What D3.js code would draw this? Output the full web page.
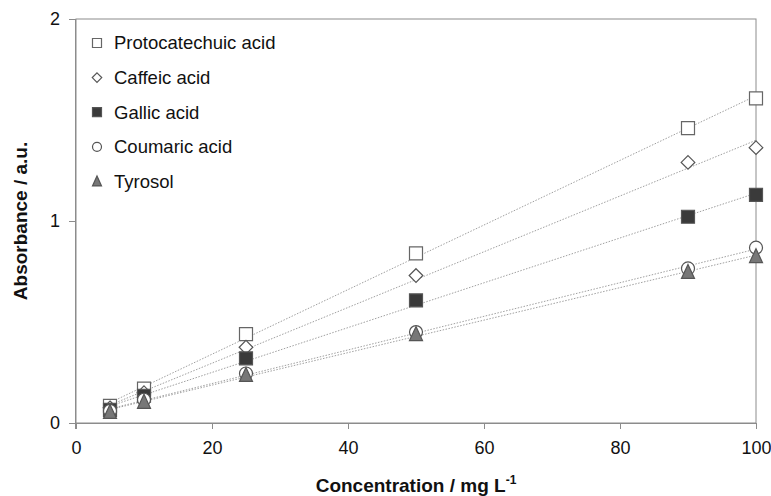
<!DOCTYPE html>
<html>
<head>
<meta charset="utf-8">
<script src="https://cdn.jsdelivr.net/npm/d3@7"></script>
<style>
  html, body { margin: 0; padding: 0; background: #fff; }
  svg { display: block; font-family: Arial, "Liberation Sans", sans-serif; }
</style>
</head>
<body>
<svg id="chart" width="771" height="496"></svg>
<script>
// Data
const concentrations = [5, 10, 25, 50, 90, 100];
const seriesNames = ["Protocatechuic acid", "Caffeic acid", "Gallic acid", "Coumaric acid", "Tyrosol"];
const protocatechuic = [0.085, 0.17, 0.44, 0.84, 1.46, 1.607];
const caffeic = [0.075, 0.15, 0.375, 0.73, 1.29, 1.363];
const gallic = [0.065, 0.135, 0.32, 0.607, 1.021, 1.129];
const coumaric = [0.06, 0.115, 0.245, 0.45, 0.765, 0.868];
const tyrosol = [0.055, 0.105, 0.238, 0.44, 0.748, 0.826];
const xTicks = [0, 20, 40, 60, 80, 100];
const yTicks = [0, 1, 2];

const seriesValues = [protocatechuic, caffeic, gallic, coumaric, tyrosol];
const markerStyles = [
  { shape: "square", fill: "#ffffff", stroke: "#666666" },
  { shape: "diamond", fill: "#ffffff", stroke: "#555555" },
  { shape: "square", fill: "#3a3a3a", stroke: "#555555" },
  { shape: "circle", fill: "#ffffff", stroke: "#555555" },
  { shape: "triangle", fill: "#777777", stroke: "#555555" }
];

const svg = d3.select("#chart");
const pLeft = 76, pRight = 756, pTop = 19, pBottom = 423;
const x = d3.scaleLinear().domain([0, 100]).range([pLeft, pRight]);
const y = d3.scaleLinear().domain([0, 2]).range([pBottom, pTop]);

function markerPath(shape, size) {
  const h = size / 2;
  if (shape === "square") return `M${-h},${-h}H${h}V${h}H${-h}Z`;
  if (shape === "diamond") { const d = h * 1.05; return `M0,${-d}L${d},0L0,${d}L${-d},0Z`; }
  if (shape === "triangle") { return `M0,${-h - 1}L${h},${h}L${-h},${h}Z`; }
  return null;
}

function drawMarker(g, style, size) {
  if (style.shape === "circle") {
    g.append("circle").attr("r", size / 2).attr("fill", style.fill)
      .attr("stroke", style.stroke).attr("stroke-width", 1.2);
  } else {
    g.append("path").attr("d", markerPath(style.shape, size)).attr("fill", style.fill)
      .attr("stroke", style.stroke).attr("stroke-width", 1.2);
  }
}

// Frame
svg.append("rect").attr("x", pLeft).attr("y", pTop)
  .attr("width", pRight - pLeft).attr("height", pBottom - pTop)
  .attr("fill", "none").attr("stroke", "#8c8c8c").attr("stroke-width", 1);

// X axis
const xAxis = d3.axisBottom(x).tickValues(xTicks).tickSize(6).tickPadding(12).tickFormat(d3.format("d"));
const gx = svg.append("g").attr("transform", `translate(0,${pBottom})`).call(xAxis);
gx.select(".domain").attr("d", `M${pLeft - 6},0.5H${pRight}`).attr("stroke", "#8c8c8c");
gx.selectAll(".tick line").attr("stroke", "#8c8c8c");
gx.selectAll(".tick text").attr("font-size", 18).attr("fill", "#111")
  .attr("font-family", "Arial, 'Liberation Sans', sans-serif");

// Y axis
const yAxis = d3.axisLeft(y).tickValues(yTicks).tickSize(7).tickPadding(9).tickFormat(d3.format("d"));
const gy = svg.append("g").attr("transform", `translate(${pLeft},0)`).call(yAxis);
gy.select(".domain").attr("d", `M-0.5,${pTop}V${pBottom + 6}`).attr("stroke", "#8c8c8c");
gy.selectAll(".tick line").attr("stroke", "#8c8c8c");
gy.selectAll(".tick text").attr("font-size", 18).attr("fill", "#111")
  .attr("font-family", "Arial, 'Liberation Sans', sans-serif");

// Axis titles
const xt = svg.append("text").attr("x", (pLeft + pRight) / 2).attr("y", 492)
  .attr("text-anchor", "middle").attr("font-size", 19).attr("font-weight", "bold").attr("fill", "#111");
xt.append("tspan").text("Concentration / mg L");
xt.append("tspan").attr("dy", -8).attr("font-size", 12).text("-1");

svg.append("text").attr("transform", `translate(27,${(pTop + pBottom) / 2}) rotate(-90)`)
  .attr("text-anchor", "middle").attr("font-size", 19).attr("font-weight", "bold").attr("fill", "#111")
  .text("Absorbance / a.u.");

// Trendlines (least-squares fit of each series)
seriesValues.forEach(vals => {
  const mx = d3.mean(concentrations), my = d3.mean(vals);
  let sxy = 0, sxx = 0;
  concentrations.forEach((c, i) => { sxy += (c - mx) * (vals[i] - my); sxx += (c - mx) ** 2; });
  const b = sxy / sxx, a = my - b * mx;
  const x0 = d3.min(concentrations), x1 = d3.max(concentrations);
  svg.append("line")
    .attr("x1", x(x0)).attr("y1", y(a + b * x0))
    .attr("x2", x(x1)).attr("y2", y(a + b * x1))
    .attr("stroke", "#a0a0a0").attr("stroke-width", 1).attr("stroke-dasharray", "1.5,1.5");
});

// Markers
seriesValues.forEach((vals, si) => {
  const g = svg.append("g");
  vals.forEach((v, i) => {
    const m = g.append("g").attr("transform", `translate(${x(concentrations[i])},${y(v)})`);
    drawMarker(m, markerStyles[si], 13);
  });
});

// Legend
const legend = svg.append("g");
seriesNames.forEach((name, i) => {
  const yy = 43 + i * 34.6;
  const m = legend.append("g").attr("transform", `translate(97,${yy})`);
  drawMarker(m, markerStyles[i], 9);
  legend.append("text").attr("x", 114).attr("y", yy).attr("dy", "0.35em")
    .attr("font-size", 18.5).attr("fill", "#111").text(name);
});
</script>
</body>
</html>
